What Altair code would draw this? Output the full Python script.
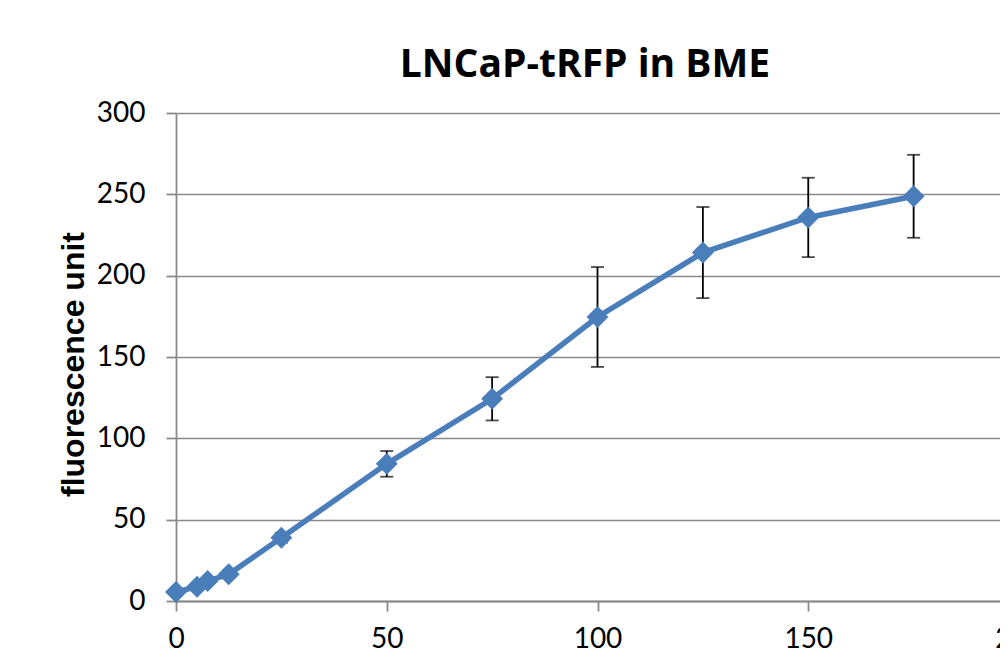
import altair as alt
import pandas as pd

# Data
conc = [0, 5, 7.5, 12.5, 25, 50, 75, 100, 125, 150, 175]
fluor = [5.5, 8.8, 12.3, 16.4, 38.9, 84.3, 124.3, 174.6, 214.2, 235.8, 248.8]
err = [1.0, 1.2, 1.5, 2.0, 3.0, 7.9, 13.3, 30.7, 28.0, 24.4, 25.5]

x_ticks = [0, 50, 100, 150, 200]
y_ticks = [0, 50, 100, 150, 200, 250, 300]

df = pd.DataFrame({"conc": conc, "fluor": fluor, "err": err})
df["lo"] = df["fluor"] - df["err"]
df["hi"] = df["fluor"] + df["err"]

BLUE = "#4a7ebb"
GRAY = "#8a8a8a"

xenc = alt.X(
    "conc:Q",
    scale=alt.Scale(domain=[0, 200], range=[0, 843], nice=False),
    axis=alt.Axis(values=x_ticks, title=None, grid=False, labelPadding=14, labelFlush=False),
)
yscale = alt.Scale(domain=[0, 300], nice=False)
yenc = alt.Y(
    "fluor:Q",
    scale=yscale,
    axis=alt.Axis(
        values=y_ticks,
        title="fluorescence unit",
        titleFont="Liberation Sans",
        titleFontSize=32,
        titleFontWeight="bold",
        titleColor="black",
        titleAngle=-90,
        titleBaseline="alphabetic",
        titleAlign="center",
        titleX=-93,
        titleY=251,
        labelPadding=21,
        labelFlush=False,
        grid=True,
    ),
)

base = alt.Chart(df)

bars = base.mark_rule(color="black", strokeWidth=1.8).encode(
    x="conc:Q", y=alt.Y("lo:Q", scale=yscale), y2="hi:Q"
)
cap_lo = base.mark_tick(color="black", orient="horizontal", size=13, thickness=1.8).encode(
    x="conc:Q", y=alt.Y("lo:Q", scale=yscale)
)
cap_hi = base.mark_tick(color="black", orient="horizontal", size=13, thickness=1.8).encode(
    x="conc:Q", y=alt.Y("hi:Q", scale=yscale)
)
line = base.mark_line(color=BLUE, strokeWidth=5.5).encode(x=xenc, y=yenc)
pts = base.mark_point(shape="diamond", filled=True, size=480, opacity=1, color=BLUE).encode(
    x="conc:Q", y="fluor:Q"
)

chart = (
    alt.layer(bars, cap_lo, cap_hi, line, pts)
    .properties(
        width=824,
        height=488,
        autosize=alt.AutoSizeParams(type="none"),
        padding={"left": 168, "top": 105, "right": 0, "bottom": 55},
        title=alt.TitleParams(
            "LNCaP-tRFP in BME",
            font="Open Sans",
            fontSize=39,
            fontWeight="bold",
            color="black",
            anchor="middle",
            baseline="alphabetic",
            offset=34,
            dx=-3,
            dy=51,
        ),
    )
    .configure_view(stroke=None)
    .configure_axis(
        labelFont="Lato",
        labelFontSize=28,
        labelColor="black",
        domainColor=GRAY,
        domainWidth=1.8,
        tickColor=GRAY,
        tickWidth=1.8,
        tickSize=10,
        gridColor=GRAY,
        gridWidth=1.5,
    )
)

chart.save("out.html", embed_options={"renderer": "svg", "actions": False})
